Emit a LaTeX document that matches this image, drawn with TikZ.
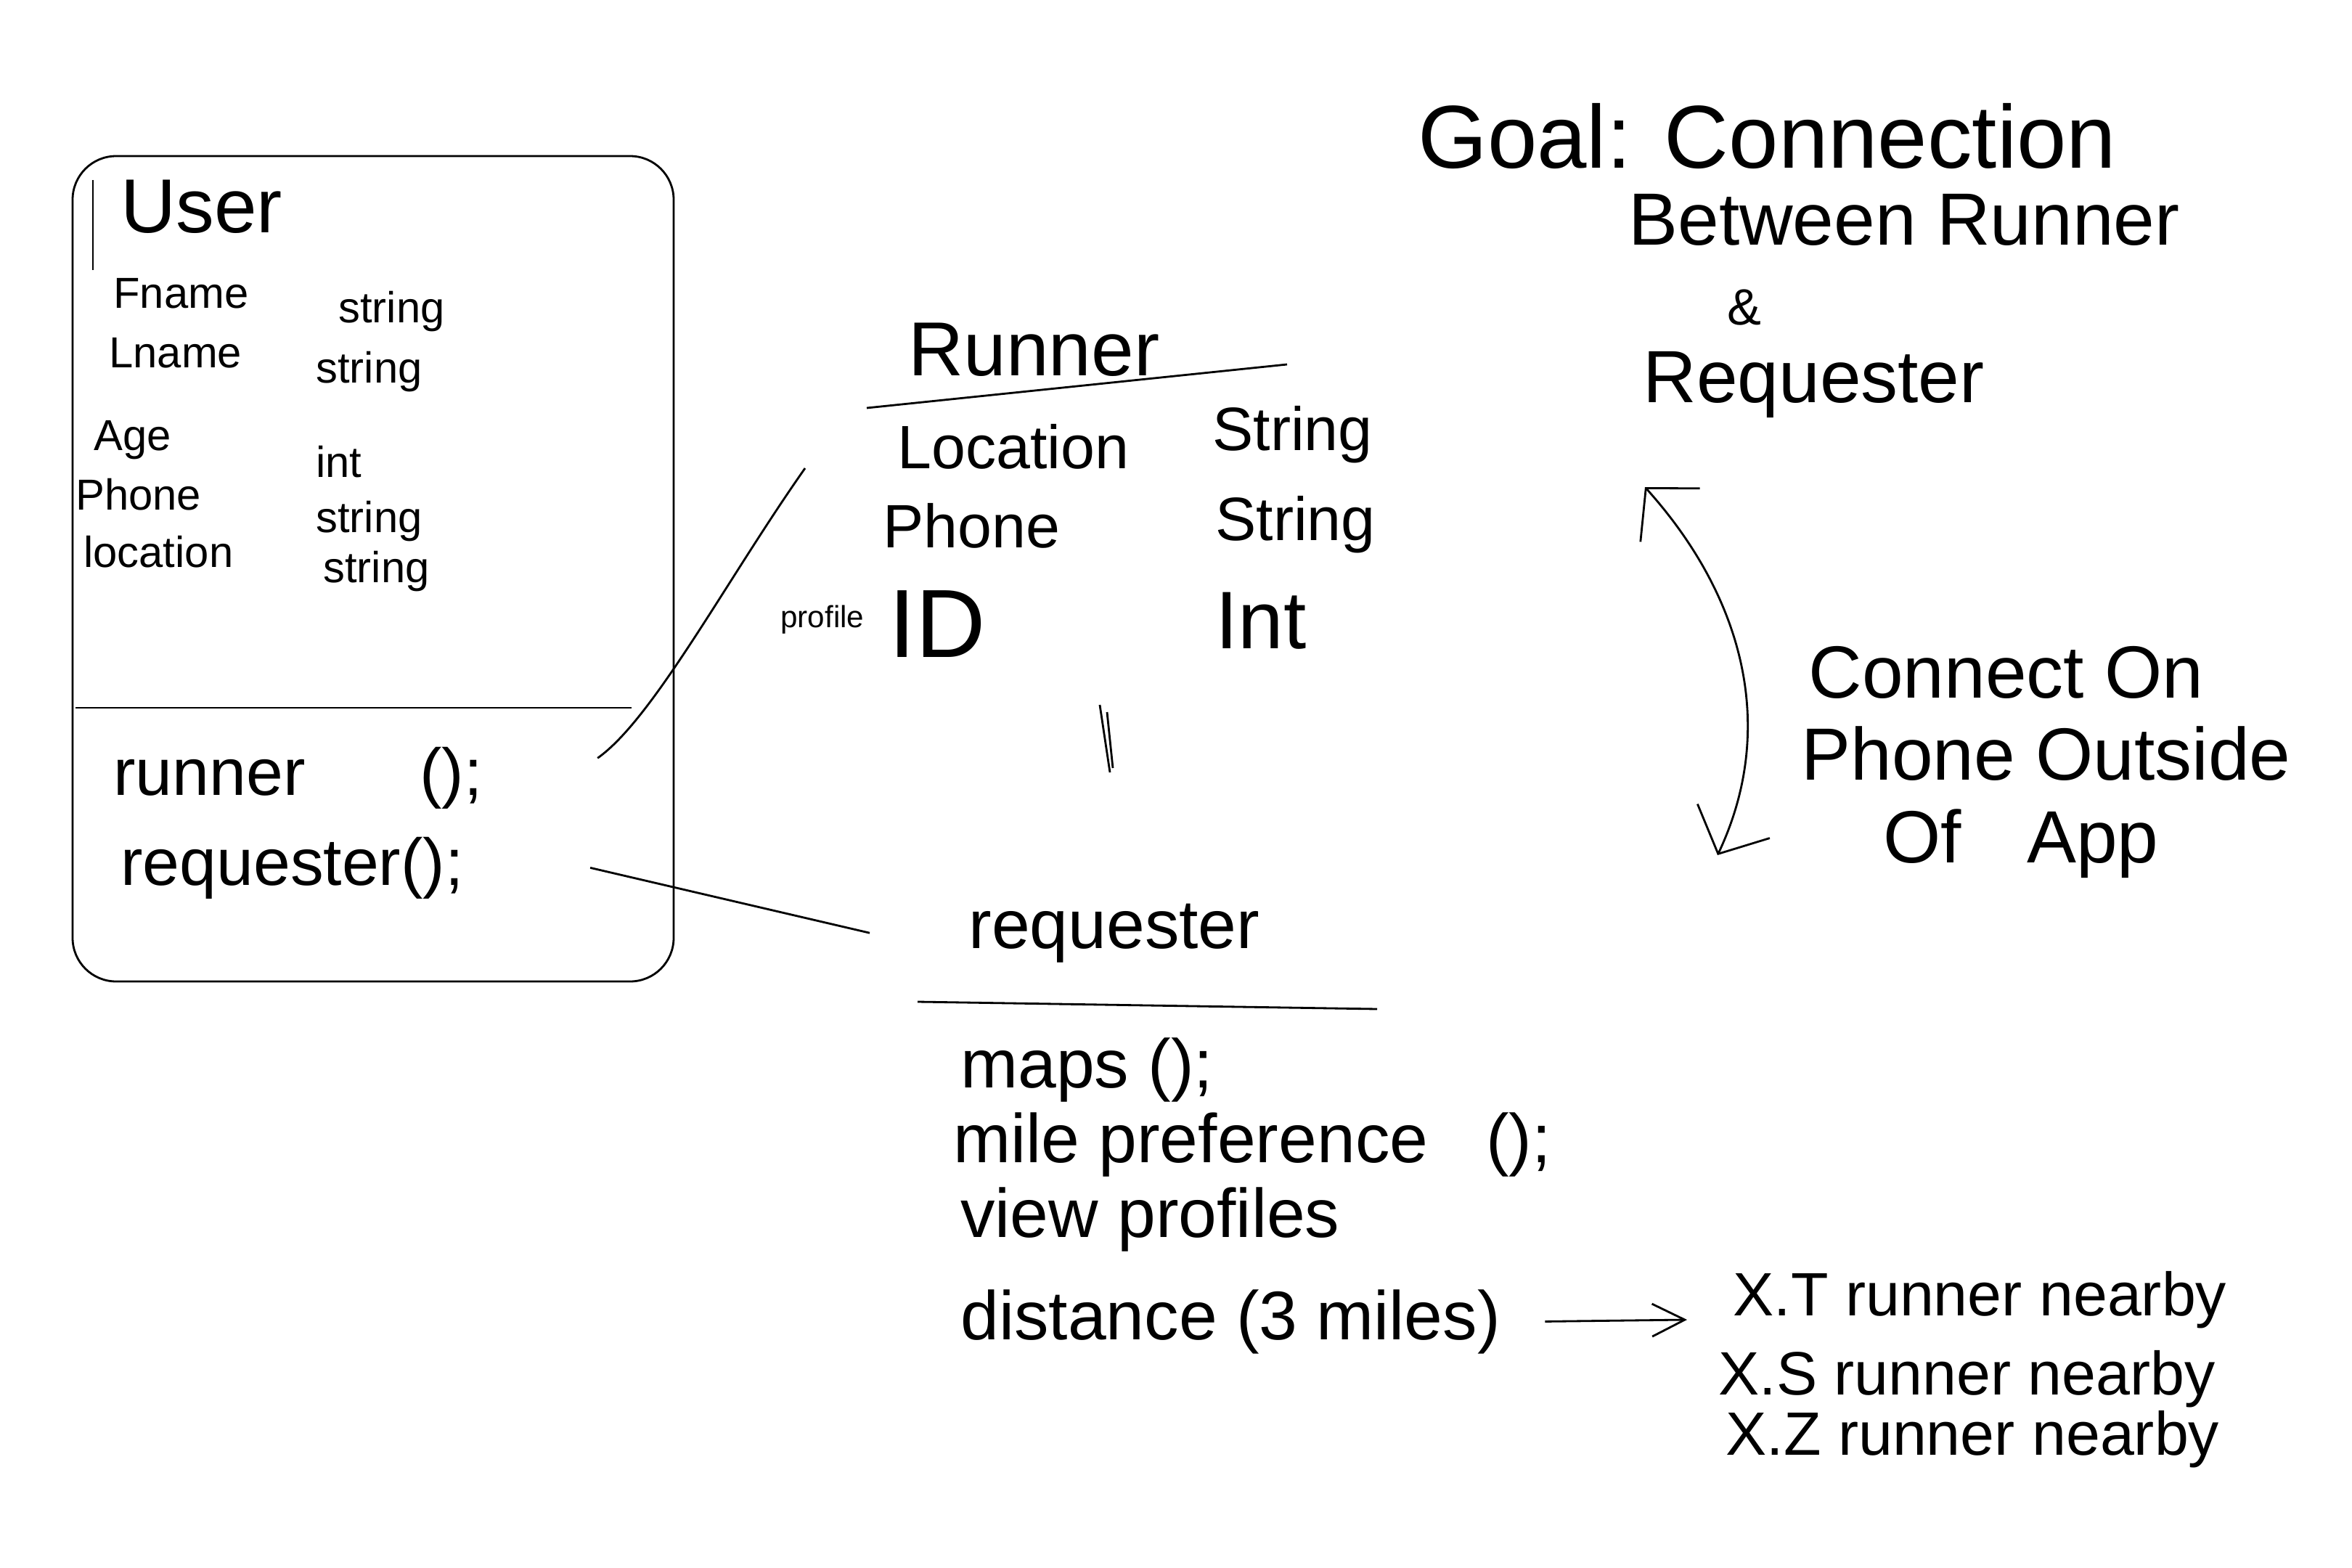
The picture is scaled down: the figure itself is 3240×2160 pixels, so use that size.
\documentclass[tikz,border=0pt]{standalone}
\usepackage{fontspec}
\setmainfont{Liberation Sans}
\usetikzlibrary{positioning,arrows.meta}

\begin{document}
\begin{tikzpicture}[x=0.1mm, y=-0.1mm, line width=0.8pt,
    txt/.style={anchor=base west, inner sep=0pt},
    attr/.style={txt, font=\fontsize{17}{20}\selectfont},
    meth/.style={txt, font=\fontsize{26}{30}\selectfont},
    field/.style={txt, font=\fontsize{24}{28}\selectfont},
    rmeth/.style={txt, font=\fontsize{27}{32}\selectfont},
    head/.style={txt, font=\fontsize{30}{36}\selectfont},
    note/.style={txt, font=\fontsize{29}{34}\selectfont},
    nearby/.style={txt, font=\fontsize{24}{28}\selectfont},
    openarrow/.style={-{Straight Barb[length=4.5mm,width=4.5mm]}},
    bothbarb/.style={{Straight Barb[length=5mm,width=11mm]}-{Straight Barb[length=5mm,width=11mm]}}]

    \fill[white] (0,0) rectangle (3240,2160);
    \useasboundingbox (0,0) rectangle (3240,2160);

    % user class
    \draw[rounded corners=6mm] (100,215) rectangle (928,1352);
    \draw (128,248) -- (128,372);
    \draw (104,975) -- (870,975);
    \node[head] (user) at (165,320) {User};
    \node[attr] (fname) at (155,424) {Fname};
    \node[attr] (fnameT) at (465,444) {string};
    \node[attr] (lname) at (149,506) {Lname};
    \node[attr] (lnameT) at (434,527) {string};
    \node[attr] (age) at (128,620) {Age};
    \node[attr] (ageT) at (434,657) {int};
    \node[attr] (uphone) at (103,702) {Phone};
    \node[attr] (uphoneT) at (434,733) {string};
    \node[attr] (uloc) at (114,781) {location};
    \node[attr] (ulocT) at (444,802) {string};
    \node[meth] (runm) at (155,1095) {runner\hspace{15.8mm}();};
    \node[meth] (reqm) at (165,1219) {requester();};

    % runner class
    \node[head] (runner) at (1250,517) {Runner};
    \draw (1194,562) -- (1773,502);
    \node[field] (rloc) at (1235,645) {Location};
    \node[field] (rlocT) at (1669,620) {String};
    \node[field] (rphone) at (1215,754) {Phone};
    \node[field] (rphoneT) at (1673,744) {String};
    \node[txt, font=\fontsize{12}{14}\selectfont] (rprof) at (1074,864) {profile};
    \node[txt, font=\fontsize{38}{44}\selectfont] (rid) at (1223,905) {ID};
    \node[txt, font=\fontsize{32}{38}\selectfont] (ridT) at (1673,893) {Int};
    \draw (1515,971) -- (1529,1064);
    \draw (1525,981) -- (1533,1058);

    % requester class
    \node[rmeth] (reqc) at (1333,1306) {requester};
    \draw (1264,1380) -- (1897,1390);
    \node[rmeth] (maps) at (1322,1498) {maps ();};
    \node[rmeth] (mile) at (1312,1601) {mile preference\hspace{8mm}();};
    \node[rmeth] (views) at (1322,1704) {view profiles};
    \node[rmeth] (dist) at (1322,1845) {distance (3 miles)};

    \node[nearby] (xt) at (2386,1812) {X.T runner nearby};
    \node[nearby] (xs) at (2366,1921) {X.S runner nearby};
    \node[nearby] (xz) at (2376,2004) {X.Z runner nearby};

    % goal
    \node[txt, font=\fontsize{35}{42}\selectfont] (goal) at (1952,231) {Goal: Connection};
    \node[note] (between) at (2242,337) {Between Runner};
    \node[inner sep=0pt, font=\fontsize{20}{24}\selectfont] (amp) at (2403,424) {\&};
    \node[note] (goalreq) at (2262,554) {Requester};
    \node[note] (conn) at (2490,961) {Connect On};
    \node[note] (outs) at (2480,1074) {Phone Outside};
    \node[note] (ofapp) at (2593,1188) {Of\hspace{9mm}App};
    \coordinate (gtop) at (2266,671);
    \coordinate (gbot) at (2366,1178);

    \draw ([xshift=15.7mm,yshift=2.7mm]runm.east) .. controls (900,990) and (1000,800) .. ([xshift=-12.6mm]rloc.base west);
    \draw ([xshift=17.3mm]reqm.east) -- ([xshift=-13.5mm]reqc.west);
    \draw[openarrow] ([xshift=6mm]dist.east) -- ([xshift=-6.2mm,yshift=-0.6mm]xt.base west);
    \draw[bothbarb] (gtop) .. controls (2400,820) and (2450,1000) .. (gbot);
\end{tikzpicture}
\end{document}
